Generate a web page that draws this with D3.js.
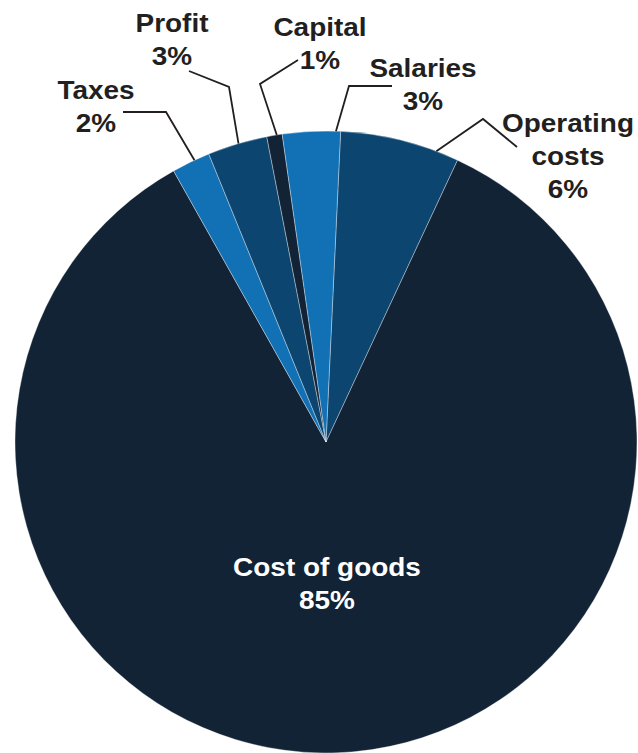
<!DOCTYPE html>
<html>
<head>
<meta charset="utf-8">
<script src="https://cdn.jsdelivr.net/npm/d3@7"></script>
<style>
  body { margin: 0; background: #fff; }
  svg { display: block; }
  text { font-family: "Liberation Sans", Arial, Helvetica, sans-serif; font-weight: bold; }
</style>
</head>
<body>
<div id="chart"></div>
<script>
// Where the money goes - pie chart

// data (clockwise, starting with Operating costs)
var categories = ["Operating costs", "Cost of goods", "Taxes", "Profit", "Capital", "Salaries"];
var shares = [6.2, 84.9, 2.0, 3.1, 0.8, 3.0];
var shareLabels = ["6%", "85%", "2%", "3%", "1%", "3%"];
var nameLines = [["Operating", "costs"], ["Cost of goods"], ["Taxes"], ["Profit"], ["Capital"], ["Salaries"]];

(function pieChart() {
  var width = 638, height = 753;
  var cx = 326, cy = 442, radius = 311;
  var startDeg = 2.7;

  var color = d3.scaleOrdinal()
    .domain(categories)
    .range(["#0b4570", "#122335", "#1271b4", "#0b4570", "#122335", "#1271b4"]);

  // label placement: text centre + first baseline, leader line elbow/end, where on the arc the leader touches
  var layout = {
    "Operating costs": { x: 568, y: 132, inside: false, at: 0.81, leader: [[483, 119], [517, 147]] },
    "Cost of goods":   { x: 327, y: 576, inside: true },
    "Taxes":           { x: 96,  y: 99,  inside: false, at: 0.6,  leader: [[166, 112], [123, 112]] },
    "Profit":          { x: 172, y: 32,  inside: false, at: 0.52, leader: [[229, 87], [189, 71]] },
    "Capital":         { x: 320, y: 36,  inside: false, at: 0.65, leader: [[260, 84], [298, 60]] },
    "Salaries":        { x: 423, y: 77,  inside: false, at: 0.92, leader: [[349, 86], [392, 86]] }
  };
  var lineGap = 33;

  var svg = d3.select("#chart").append("svg")
    .attr("width", width)
    .attr("height", height);

  var g = svg.append("g").attr("transform", "translate(" + cx + "," + cy + ")");

  var pie = d3.pie()
    .sort(null)
    .value(function (d) { return d; })
    .startAngle(startDeg * Math.PI / 180)
    .endAngle(startDeg * Math.PI / 180 + 2 * Math.PI);

  var arc = d3.arc().innerRadius(0).outerRadius(radius);
  var arcs = pie(shares);

  g.selectAll(".slice")
    .data(arcs)
    .enter()
    .append("path")
    .attr("class", "slice")
    .attr("d", arc)
    .attr("fill", function (d, i) { return color(categories[i]); })
    .attr("stroke", "#fff")
    .attr("stroke-width", 0.35)
    .attr("stroke-linejoin", "round");

  // leader lines
  var line = d3.line();
  g.selectAll(".leader")
    .data(arcs.filter(function (d, i) { return !layout[categories[i]].inside; }))
    .enter()
    .append("path")
    .attr("class", "leader")
    .attr("fill", "none")
    .attr("stroke", "#231f20")
    .attr("stroke-width", 1.8)
    .attr("d", function (d) {
      var L = layout[categories[d.index]];
      var a = d.startAngle + L.at * (d.endAngle - d.startAngle);
      var pts = [[radius * Math.sin(a), -radius * Math.cos(a)]];
      L.leader.forEach(function (p) { pts.push([p[0] - cx, p[1] - cy]); });
      return line(pts);
    });

  // labels (glyphs are a little wider than Liberation Sans, so stretch a bit)
  var labels = svg.selectAll(".label")
    .data(arcs)
    .enter()
    .append("text")
    .attr("class", "label")
    .attr("text-anchor", "middle")
    .attr("font-size", "26px")
    .attr("transform", function (d) {
      var L = layout[categories[d.index]];
      return "translate(" + L.x + "," + L.y + ") scale(1.075,1)";
    })
    .attr("fill", function (d) { return layout[categories[d.index]].inside ? "#fff" : "#231f20"; });

  labels.each(function (d) {
    var rows = nameLines[d.index].concat([shareLabels[d.index]]);
    var t = d3.select(this);
    rows.forEach(function (r, k) {
      t.append("tspan")
        .attr("x", 0)
        .attr("y", k * lineGap)
        .text(r);
    });
  });
})();
</script>
</body>
</html>
